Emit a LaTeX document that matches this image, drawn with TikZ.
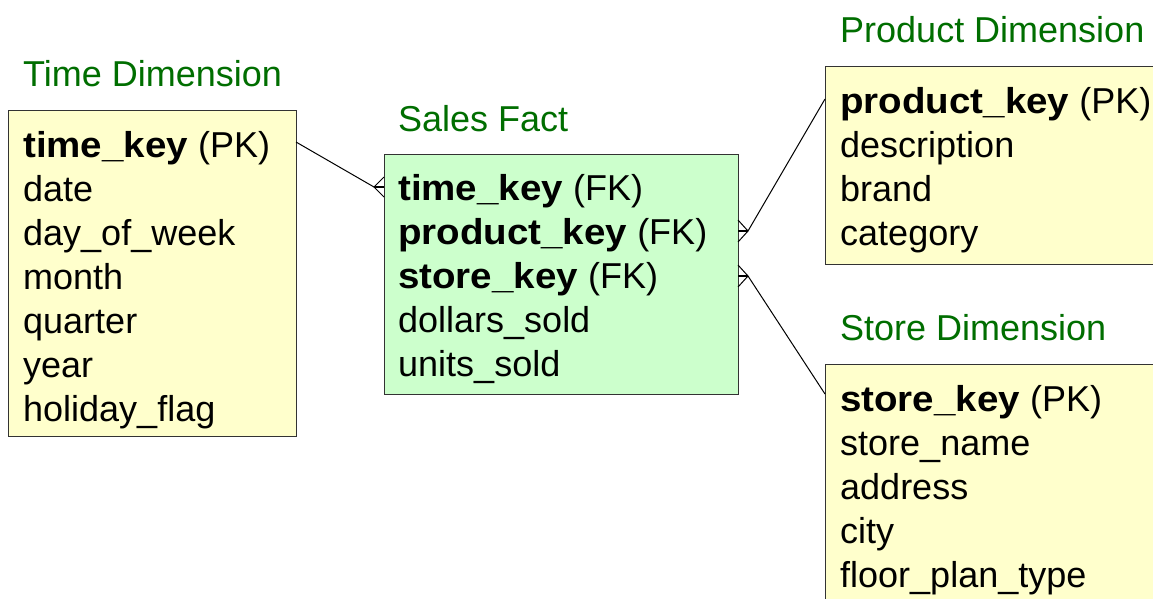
\documentclass[tikz,border=0pt]{standalone}
\usepackage{fontspec}
\setmainfont{Liberation Sans}[BoldFeatures={FakeStretch=1.07}]
\definecolor{dimfill}{HTML}{FFFFCC}
\definecolor{factfill}{HTML}{CCFFCC}
\definecolor{titlegreen}{HTML}{006E00}
\definecolor{boxline}{HTML}{333333}
\begin{document}
\begin{tikzpicture}[x=1pt,y=-1pt,
  tbl/.style={draw=boxline, line width=1.2pt, anchor=north west, inner sep=0pt},
  row/.style={anchor=base west, inner sep=0pt, font=\fontsize{36}{44}\selectfont},
  ttl/.style={anchor=base west, inner sep=0pt, text=titlegreen, font=\fontsize{36}{44}\selectfont},
  conn/.style={line width=1pt, black},
  midbar/.style={line width=2pt, black}]
\useasboundingbox (0,0) rectangle (1153,598);
\clip (0,0) rectangle (1153,598);
\fill[white] (0,0) rectangle (1153,598);
% tables
\node[tbl, fill=dimfill, minimum width=288pt, minimum height=326pt] (time) at (8,110) {};
\node[tbl, fill=factfill, minimum width=354pt, minimum height=240pt] (sales) at (384,154) {};
\node[tbl, fill=dimfill, minimum width=360pt, minimum height=198pt] (product) at (825,66) {};
\node[tbl, fill=dimfill, minimum width=360pt, minimum height=260pt] (store) at (825,364) {};
% titles
\node[ttl] (timettl) at (23,86) {Time Dimension};
\node[ttl] (salesttl) at (398,131) {Sales Fact};
\node[ttl] (productttl) at (840,42) {Product Dimension};
\node[ttl] (storettl) at (840,340) {Store Dimension};
% rows
\foreach \t [count=\i] in {{\textbf{time\_key} (PK)},date,day\_of\_week,month,quarter,year,holiday\_flag}
  \node[row] (time-\i) at (23,{157+44*(\i-1)}) {\t};
\foreach \t [count=\i] in {{\textbf{time\_key} (FK)},{\textbf{product\_key} (FK)},{\textbf{store\_key} (FK)},dollars\_sold,units\_sold}
  \node[row] (sales-\i) at (398,{200+44*(\i-1)}) {\t};
\foreach \t [count=\i] in {{\textbf{product\_key} (PK)},description,brand,category}
  \node[row] (product-\i) at (840,{113+44*(\i-1)}) {\t};
\foreach \t [count=\i] in {{\textbf{store\_key} (PK)},store\_name,address,city,floor\_plan\_type}
  \node[row] (store-\i) at (840,{411+44*(\i-1)}) {\t};
% connector anchors
\coordinate (tA) at (296,142);
\coordinate (tV) at (374,187);
\coordinate (tU) at (384,177);
\coordinate (tM) at (384,187);
\coordinate (tL) at (384,197);
\coordinate (pA) at (825,99);
\coordinate (pV) at (748,231);
\coordinate (pU) at (738,220);
\coordinate (pM) at (738,231);
\coordinate (pL) at (738,242);
\coordinate (sA) at (825,394);
\coordinate (sV) at (748,276);
\coordinate (sU) at (738,265);
\coordinate (sM) at (738,276);
\coordinate (sL) at (738,287);
% connectors
\draw[conn] (tA) -- (tV);
\draw[conn] (tU) -- (tV) -- (tL);
\draw[midbar] (tV) -- (tM);
\draw[conn] (pA) -- (pV);
\draw[conn] (pU) -- (pV) -- (pL);
\draw[midbar] (pV) -- (pM);
\draw[conn] (sA) -- (sV);
\draw[conn] (sU) -- (sV) -- (sL);
\draw[midbar] (sV) -- (sM);
\end{tikzpicture}
\end{document}
